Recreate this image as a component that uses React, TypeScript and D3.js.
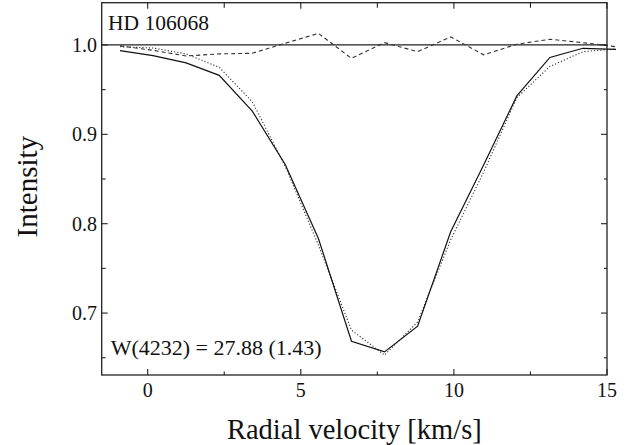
import React from "react";
import * as d3 from "d3";

const velocity = [-0.905, 0.175, 1.255, 2.335, 3.415, 4.495, 5.575, 6.655, 7.735, 8.815, 9.895, 10.975, 12.055, 13.135, 14.215, 15.295];
const observed = [0.9936, 0.988, 0.98, 0.966, 0.926, 0.866, 0.7835, 0.6685, 0.6566, 0.6853, 0.791, 0.866, 0.943, 0.986, 0.9963, 0.995];
const model = [0.998, 0.9966, 0.99, 0.975, 0.9365, 0.864, 0.776, 0.681, 0.653, 0.69, 0.782, 0.858, 0.941, 0.976, 0.9925, 0.9955];
const residual = [0.999, 0.994, 0.9877, 0.99, 0.9907, 1.002, 1.013, 0.985, 1.0026, 0.9925, 1.009, 0.989, 1.0008, 1.0064, 1.0026, 0.998];
const xTicks = [0, 5, 10, 15];
const xMinor = [-2.5, 2.5, 7.5, 12.5];
const yTicks = [0.7, 0.8, 0.9, 1.0];
const yMinor = [0.65, 0.75, 0.85, 0.95];
const starName = "HD 106068";
const widthLabel = "W(4232) = 27.88 (1.43)";

const W = 634, H = 445;
const L = 101.7, R = 607, T = 2.7, B = 375;

export default function App() {
  const x = d3.scaleLinear().domain([-1.502, 15]).range([L, R]);
  const y = d3.scaleLinear().domain([0.6307, 1.0473]).range([B, T]);
  const line = (vals: number[]) =>
    d3.line<number>().x((_, i) => x(velocity[i])).y((d) => y(d))(vals) || "";
  const axisColor = "#222";
  const font = "Times New Roman, Liberation Serif, DejaVu Serif, serif";
  const ts = { fontFamily: font } as React.CSSProperties;
  return (
    <svg width={W} height={H} style={{ position: "absolute", left: 0, top: 0, background: "#fff" }}>
      <rect x={0} y={0} width={W} height={H} fill="#fff" />
      <line x1={L} x2={R} y1={y(1.0)} y2={y(1.0)} stroke="#222" strokeWidth={1.2} />
      <path d={line(model)} fill="none" stroke="#333" strokeWidth={1.1} strokeDasharray="1.2,2" />
      <path d={line(residual)} fill="none" stroke="#333" strokeWidth={1.1} strokeDasharray="4,3" />
      <path d={line(observed)} fill="none" stroke="#111" strokeWidth={1.2} />
      <rect x={L} y={T} width={R - L} height={B - T} fill="none" stroke={axisColor} strokeWidth={1.3} />
      {xTicks.map((t) => (
        <g key={"xt" + t}>
          <line x1={x(t)} x2={x(t)} y1={B} y2={B - 6} stroke={axisColor} strokeWidth={1.1} />
          <line x1={x(t)} x2={x(t)} y1={T} y2={T + 6} stroke={axisColor} strokeWidth={1.1} />
          <text x={x(t)} y={397} fontSize={20} textAnchor="middle" fill="#111" style={ts}>{t}</text>
        </g>
      ))}
      {xMinor.filter((t) => x(t) > L).map((t) => (
        <g key={"xm" + t}>
          <line x1={x(t)} x2={x(t)} y1={B} y2={B - 3.5} stroke={axisColor} strokeWidth={1.1} />
          <line x1={x(t)} x2={x(t)} y1={T} y2={T + 5} stroke={axisColor} strokeWidth={1.1} />
        </g>
      ))}
      {yTicks.map((t) => (
        <g key={"yt" + t}>
          <line x1={L} x2={L + 6} y1={y(t)} y2={y(t)} stroke={axisColor} strokeWidth={1.1} />
          <line x1={R} x2={R - 6} y1={y(t)} y2={y(t)} stroke={axisColor} strokeWidth={1.1} />
          <text x={97} y={y(t)} dy="0.35em" fontSize={20} textAnchor="end" fill="#111" style={ts}>{t.toFixed(1)}</text>
        </g>
      ))}
      {yMinor.map((t) => (
        <g key={"ym" + t}>
          <line x1={L} x2={L + 4} y1={y(t)} y2={y(t)} stroke={axisColor} strokeWidth={1.1} />
          <line x1={R} x2={R - 3} y1={y(t)} y2={y(t)} stroke={axisColor} strokeWidth={1.1} />
        </g>
      ))}
      <text x={108} y={29.5} fontSize={21.5} fill="#111" style={ts}>{starName}</text>
      <text x={110.7} y={355} fontSize={22} fill="#111" style={ts}>{widthLabel}</text>
      <text x={(L + R) / 2} y={439} fontSize={28.5} textAnchor="middle" fill="#111" style={ts}>Radial velocity [km/s]</text>
      <text transform={`translate(37,${186.7}) rotate(-90)`} fontSize={29} textAnchor="middle" fill="#111" style={ts}>Intensity</text>
    </svg>
  );
}
